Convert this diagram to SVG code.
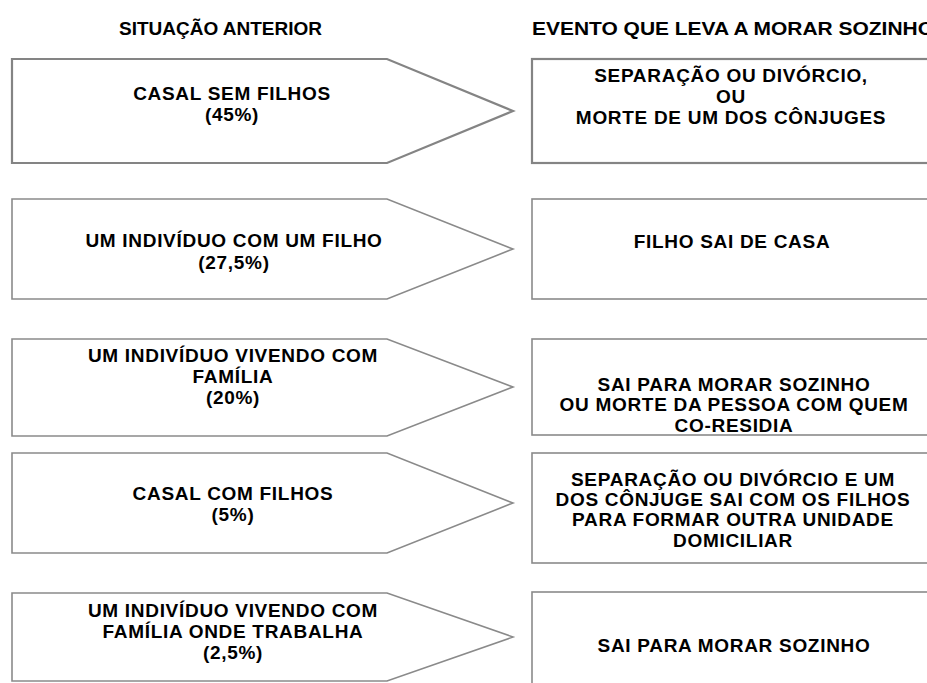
<svg xmlns="http://www.w3.org/2000/svg" width="927" height="683" viewBox="0 0 927 683">
<style>
.shape{fill:#ffffff;stroke:#8a8a8a;stroke-width:1.6;stroke-linejoin:miter}
.thick{stroke-width:2.2;stroke:#848484}
.t{font-family:"Liberation Sans",Arial,sans-serif;font-weight:bold;font-size:19px;letter-spacing:0.7px;fill:#000;text-anchor:middle}
.h{font-family:"Liberation Sans",Arial,sans-serif;font-weight:bold;font-size:18px;fill:#000}
</style>
<rect x="0" y="0" width="927" height="683" fill="#ffffff"/>
<g id="headers">
<text class="h" x="119" y="35" textLength="203" lengthAdjust="spacingAndGlyphs">SITUAÇÃO ANTERIOR</text>
<text class="h" x="532" y="35" textLength="402" lengthAdjust="spacingAndGlyphs">EVENTO QUE LEVA A MORAR SOZINHO</text>
</g>
<g id="connectors"></g>
<g id="sit1">
<polygon class="shape thick" points="12,59 387,59 513,111 387,163 12,163"/>
<text class="t" x="232" y="100">CASAL SEM FILHOS</text>
<text class="t" x="232" y="121">(45%)</text>
</g>
<g id="evt1">
<rect class="shape thick" x="532" y="59" width="420" height="104"/>
<text class="t" x="731" y="82">SEPARAÇÃO OU DIVÓRCIO,</text>
<text class="t" x="731" y="103">OU</text>
<text class="t" x="731" y="124">MORTE DE UM DOS CÔNJUGES</text>
</g>
<g id="sit2">
<polygon class="shape" points="12,199 387,199 513,249 387,299 12,299"/>
<text class="t" x="234" y="247">UM INDIVÍDUO COM UM FILHO</text>
<text class="t" x="234" y="269">(27,5%)</text>
</g>
<g id="evt2">
<rect class="shape" x="532" y="199" width="420" height="100"/>
<text class="t" x="732" y="248">FILHO SAI DE CASA</text>
</g>
<g id="sit3">
<polygon class="shape" points="12,339 387,339 513,387 387,436 12,436"/>
<text class="t" x="233" y="362">UM INDIVÍDUO VIVENDO COM</text>
<text class="t" x="233" y="383">FAMÍLIA</text>
<text class="t" x="233" y="404">(20%)</text>
</g>
<g id="evt3">
<rect class="shape" x="532" y="339" width="420" height="96"/>
<text class="t" x="734" y="391">SAI PARA MORAR SOZINHO</text>
<text class="t" x="734" y="411">OU MORTE DA PESSOA COM QUEM</text>
<text class="t" x="734" y="432">CO-RESIDIA</text>
</g>
<g id="sit4">
<polygon class="shape" points="12,453 387,453 513,503 387,553 12,553"/>
<text class="t" x="233" y="500">CASAL COM FILHOS</text>
<text class="t" x="233" y="521">(5%)</text>
</g>
<g id="evt4">
<rect class="shape" x="532" y="453" width="420" height="110"/>
<text class="t" x="733" y="486">SEPARAÇÃO OU DIVÓRCIO E UM</text>
<text class="t" x="733" y="506">DOS CÔNJUGE SAI COM OS FILHOS</text>
<text class="t" x="733" y="526">PARA FORMAR OUTRA UNIDADE</text>
<text class="t" x="733" y="547">DOMICILIAR</text>
</g>
<g id="sit5">
<polygon class="shape" points="12,593 387,593 513,637 387,681 12,681"/>
<text class="t" x="233" y="617">UM INDIVÍDUO VIVENDO COM</text>
<text class="t" x="233" y="638">FAMÍLIA ONDE TRABALHA</text>
<text class="t" x="233" y="659">(2,5%)</text>
</g>
<g id="evt5">
<rect class="shape" x="532" y="592" width="420" height="120"/>
<text class="t" x="734" y="652">SAI PARA MORAR SOZINHO</text>
</g>
</svg>
